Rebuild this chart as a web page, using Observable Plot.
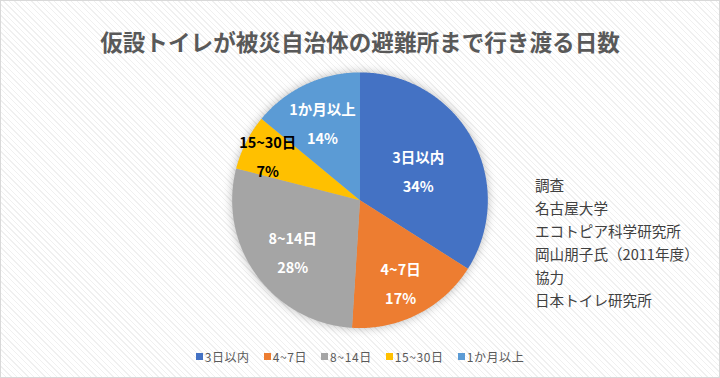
<!DOCTYPE html>
<html><head><meta charset="utf-8">
<script src="https://cdn.jsdelivr.net/npm/d3@7"></script>
<script src="https://cdn.jsdelivr.net/npm/@observablehq/plot@0.6"></script>
<style>
html,body{margin:0;padding:0;background:#fff;}
#chart{position:relative;width:720px;height:378px;box-sizing:border-box;border:1px solid #d9d9d9;
  background:repeating-linear-gradient(45deg,#ffffff 0px,#ffffff 3px,#f0f0f0 3px,#f0f0f0 4px);
  overflow:hidden;font-family:"Noto Sans CJK JP","Noto Sans",sans-serif;}
#plot{position:absolute;left:-1px;top:-1px;}
#plot svg{background:transparent;overflow:visible;}
#plot svg g[aria-label="line"]{filter:drop-shadow(0 0 5px rgba(0,0,0,0.28));}
#title{position:absolute;left:0;right:0;top:24px;text-align:center;font-size:22.6px;font-weight:bold;color:#595959;}
#note{position:absolute;left:534px;top:172px;font-size:14.6px;line-height:23px;color:#404040;}
#legend{position:absolute;left:0;right:0;top:347px;display:flex;justify-content:center;font-size:12px;color:#595959;letter-spacing:0.6px;}
#legend .item{display:flex;align-items:center;margin:0 7px;}
#legend .sw{width:7px;height:7px;margin-right:2px;display:inline-block;}
</style>
</head><body>
<div id="chart">
  <div id="plot"></div>
  <div id="title"></div>
  <div id="note"></div>
  <div id="legend"></div>
</div>
<script>
const titleText = "仮設トイレが被災自治体の避難所まで行き渡る日数";
const categories = ["3日以内", "4~7日", "8~14日", "15~30日", "1か月以上"];
const shares = [34, 17, 28, 7, 14];
const percentLabels = ["34%", "17%", "28%", "7%", "14%"];
const colors = ["#4472C4", "#ED7D31", "#A5A5A5", "#FFC000", "#5B9BD5"];
const labelColors = ["#ffffff", "#ffffff", "#ffffff", "#000000", "#ffffff"];
const labelRadius = [0.52, 0.70, 0.65, 0.81, 0.69];
const noteLines = ["調査", "名古屋大学", "エコトピア科学研究所", "岡山朋子氏（2011年度）", "協力", "日本トイレ研究所"];

const arcs = d3.pie().sort(null).value(d => d)(shares);
const points = [];
arcs.forEach((a, i) => {
  const k = categories[i];
  points.push({x: 0, y: 0, k});
  const n = Math.max(2, Math.ceil((a.endAngle - a.startAngle) / (Math.PI / 360)));
  for (let j = 0; j <= n; j++) {
    const t = a.startAngle + (a.endAngle - a.startAngle) * j / n;
    points.push({x: Math.sin(t), y: Math.cos(t), k});
  }
});
const labels = arcs.map((a, i) => {
  const m = (a.startAngle + a.endAngle) / 2;
  return {x: Math.sin(m) * labelRadius[i], y: Math.cos(m) * labelRadius[i],
          text: categories[i] + "\n" + percentLabels[i], c: labelColors[i]};
});

const plot = Plot.plot({
  width: 720, height: 378,
  margin: 0,
  x: {domain: [-1, 1], range: [232, 488], axis: null},
  y: {domain: [-1, 1], range: [328, 72], axis: null},
  color: {domain: categories, range: colors},
  style: {background: "transparent"},
  marks: [
    Plot.line(points, {x: "x", y: "y", z: "k", fill: "k", stroke: null, curve: "linear-closed"}),
    Plot.text(labels, {x: "x", y: "y", text: "text", fill: d => d.c, fontSize: 14.5, fontWeight: "bold",
      lineHeight: 2, fontFamily: "'Noto Sans CJK JP', sans-serif"})
  ]
});
document.getElementById("plot").appendChild(plot);
document.getElementById("title").textContent = titleText;
document.getElementById("note").innerHTML = noteLines.map(s => `<div>${s}</div>`).join("");
document.getElementById("legend").innerHTML = categories.map((c, i) =>
  `<div class="item"><span class="sw" style="background:${colors[i]}"></span>${c}</div>`).join("");
</script>
</body></html>
